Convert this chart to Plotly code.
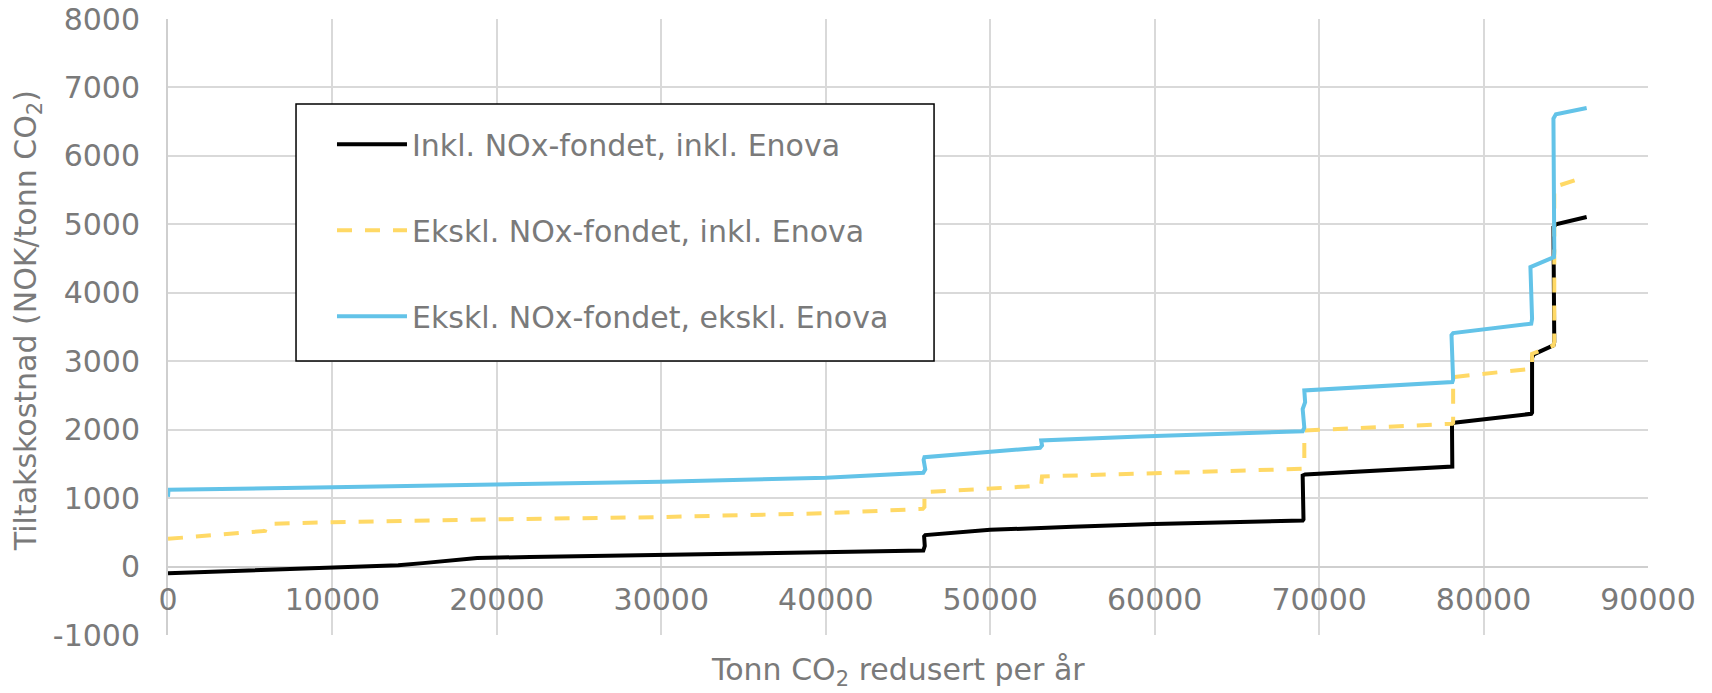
import plotly.graph_objects as go

# ---- data ----
incl_x = [0, 5000, 10000, 14000, 15500, 17000, 18800, 22000, 30000, 40000, 45930, 46020, 45980, 46050,
          50000, 55000, 60000, 69000, 69050, 69000, 69150, 78100, 78100, 78080, 78200, 82900, 82950,
          82950, 83050, 84250, 84300, 84250, 84400, 86270]
incl_y = [-98, -60, -20, 20, 50, 90, 125, 140, 170, 205, 234, 300, 440, 460,
          536, 580, 620, 673, 690, 1330, 1345, 1462, 1480, 2086, 2100, 2232, 2250,
          3050, 3100, 3231, 3280, 4960, 5000, 5107]

eks_inkl_x = [0, 5800, 5900, 6050, 10000, 20000, 29500, 40000, 45900, 46000, 46000, 52200, 53100, 53150,
              59100, 69000, 69100, 69100, 78100, 78150, 78150, 82900, 82950, 82950, 84250, 84300, 84300, 86270]
eks_inkl_y = [405, 512, 520, 624, 648, 690, 721, 779, 843, 870, 1086, 1170, 1190, 1316,
              1355, 1428, 1440, 1988, 2086, 2100, 2768, 2890, 2950, 3109, 3231, 3280, 5545, 5702]

eks_eks_x = [0, 30, 10000, 20000, 30000, 40000, 45930, 46050, 45950, 46000, 50000, 53030, 53150, 53100,
             59100, 69000, 69100, 69000, 69150, 69100, 78100, 78150, 78050, 78150, 82900, 82950, 82850,
             84280, 84300, 84250, 84400, 86270]
eks_eks_y = [1020, 1121, 1160, 1195, 1240, 1297, 1370, 1420, 1560, 1598, 1671, 1735, 1770, 1842,
             1901, 1978, 2030, 2300, 2400, 2573, 2695, 2730, 3380, 3411, 3548, 3620, 4376,
             4522, 4600, 6545, 6608, 6700]

names = ["Inkl. NOx-fondet, inkl. Enova",
         "Ekskl. NOx-fondet, inkl. Enova",
         "Ekskl. NOx-fondet, ekskl. Enova"]

x_ticks = [0, 10000, 20000, 30000, 40000, 50000, 60000, 70000, 80000, 90000]
y_ticks = [-1000, 0, 1000, 2000, 3000, 4000, 5000, 6000, 7000, 8000]

FONT = "DejaVu Sans"
GRAY = "#7a7a7a"
GRID = "#d9d9d9"

fig = go.Figure()
fig.add_trace(go.Scatter(x=incl_x, y=incl_y, mode="lines", name=names[0], legendgroup="a",
                         line=dict(color="#000000", width=4)))
fig.add_trace(go.Scatter(x=eks_inkl_x, y=eks_inkl_y, mode="lines", name=names[1], legendgroup="b",
                         line=dict(color="#FFD966", width=4, dash="15px,13px")))
fig.add_trace(go.Scatter(x=eks_eks_x, y=eks_eks_y, mode="lines", name=names[2], legendgroup="c",
                         line=dict(color="#63C3E8", width=4)))

fig.update_layout(
    width=1704, height=685,
    margin=dict(l=160, r=64, t=11, b=58, autoexpand=False),
    paper_bgcolor="white", plot_bgcolor="white",
    font=dict(family=FONT, size=30, color=GRAY),
    showlegend=True,
    legend=dict(x=0.1108, y=0.839, xanchor="left", yanchor="top",
                bgcolor="rgba(0,0,0,0)", borderwidth=0,
                font=dict(family=FONT, size=30, color=GRAY),
                tracegroupgap=44, itemwidth=70),
    shapes=[dict(type="rect", xref="paper", yref="paper", x0=0.0865, x1=0.5176, y0=0.4448, y1=0.862,
                 line=dict(color="#000000", width=1.5), fillcolor="white", layer="above")],
    xaxis=dict(range=[0, 90000], tickvals=x_ticks, ticktext=[str(v) for v in x_ticks],
               showgrid=True, gridcolor=GRID, gridwidth=1.5, zeroline=False, automargin=False,
               showline=False, ticks="", anchor="free", position=1000 / 9000,
               ticklabeloverflow="allow",
               tickfont=dict(family=FONT, size=30, color=GRAY), ticklabelstandoff=12),
    yaxis=dict(range=[-1000, 8000], tickvals=y_ticks, ticktext=[str(v) for v in y_ticks],
               showgrid=True, gridcolor=GRID, gridwidth=1.5, automargin=False,
               zeroline=True, zerolinecolor="#cfcfcf", zerolinewidth=2,
               showline=True, linecolor="#cfcfcf", linewidth=2, ticks="",
               ticklabeloverflow="allow",
               tickfont=dict(family=FONT, size=30, color=GRAY), ticklabelstandoff=20),
    annotations=[
        dict(text="Tiltakskostnad (NOK/tonn CO<sub>2</sub>)", xref="paper", yref="paper",
             x=-0.0953, y=0.511, xanchor="center", yanchor="middle", textangle=-90,
             showarrow=False, font=dict(family=FONT, size=30, color=GRAY)),
        dict(text="Tonn CO<sub>2</sub> redusert per år", xref="paper", yref="paper",
             x=0.493, y=-0.060, xanchor="center", yanchor="middle",
             showarrow=False, font=dict(family=FONT, size=30, color=GRAY)),
    ],
)

fig.write_html("out.html")
